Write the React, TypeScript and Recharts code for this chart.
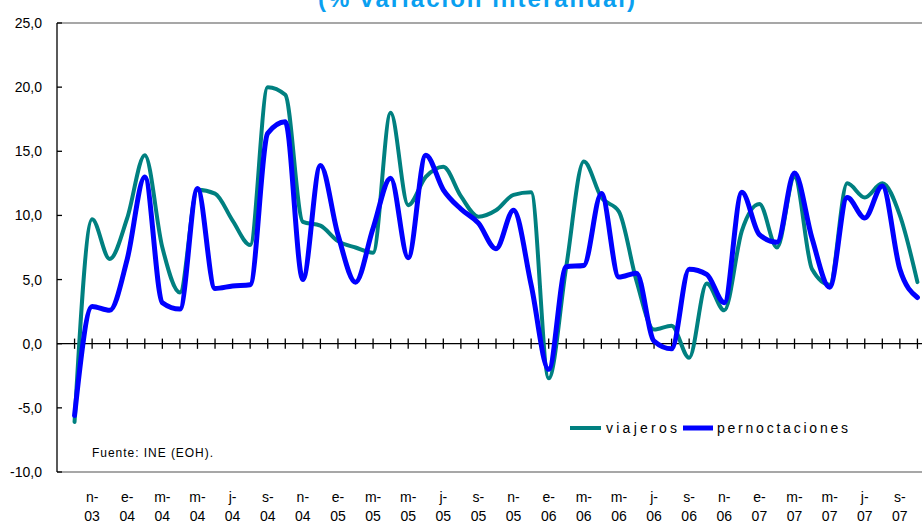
import React from 'react';
import { LineChart, Line, XAxis, YAxis, ReferenceLine, Legend } from 'recharts';

// Month categories (Oct 2003 .. Oct 2007), index k = position + 1
const months = [
  'o-03', 'n-03', 'd-03',
  'e-04', 'f-04', 'm-04', 'a-04', 'm-04', 'j-04', 'j-04', 'a-04', 's-04', 'o-04', 'n-04', 'd-04',
  'e-05', 'f-05', 'm-05', 'a-05', 'm-05', 'j-05', 'j-05', 'a-05', 's-05', 'o-05', 'n-05', 'd-05',
  'e-06', 'f-06', 'm-06', 'a-06', 'm-06', 'j-06', 'j-06', 'a-06', 's-06', 'o-06', 'n-06', 'd-06',
  'e-07', 'f-07', 'm-07', 'a-07', 'm-07', 'j-07', 'j-07', 'a-07', 's-07', 'o-07',
];

const viajeros = [
  -6.1, 9.7, 6.6,
  9.8, 14.7, 7.5, 4.0, 12.0, 11.7, 9.6, 7.7, 20.0, 19.4, 9.5, 9.2,
  8.0, 7.5, 7.1, 18.0, 10.8, 13.0, 13.8, 11.5, 9.9, 10.4, 11.6, 11.8,
  -2.7, 6.0, 14.2, 11.4, 10.3, 4.9, 1.1, 1.4, -1.1, 4.7, 2.6, 8.8,
  10.9, 7.5, 13.0, 5.8, 4.6, 12.5, 11.4, 12.5, 10.0, 4.8,
];

const pernoctaciones = [
  -5.6, 2.9, 2.6,
  6.6, 13.0, 3.2, 2.7, 12.1, 4.3, 4.5, 4.6, 16.4, 17.3, 5.0, 13.9,
  8.5, 4.8, 9.0, 12.9, 6.7, 14.7, 12.0, 10.5, 9.4, 7.4, 10.4, 4.6,
  -2.0, 6.0, 6.1, 11.7, 5.2, 5.5, 0.2, -0.4, 5.8, 5.4, 3.2, 11.8,
  8.5, 7.9, 13.3, 8.2, 4.4, 11.4, 9.8, 12.3, 5.8, 3.6,
];

const yTicks = [-10, -5, 0, 5, 10, 15, 20, 25];
const seriesNames = ['viajeros', 'pernoctaciones'];
const seriesColors = ['#008080', '#0000FF'];
const titleText = '(% variación interanual)';
const sourceText = 'Fuente: INE (EOH).';

const monthIdx = months.map((_, i) => i + 1);
const xTicks = monthIdx.filter((k) => k % 2 === 0);

const data = months.map((m, i) => ({
  k: i + 1,
  label: m,
  v: viajeros[i],
  p: pernoctaciones[i],
}));

const FONT = '"Liberation Sans", Arial, sans-serif';

const fmt = (v: number) => v.toFixed(1).replace('.', ',');

const YTick = (props: any) => {
  const { x, y, payload } = props;
  return (
    <g>
      <line x1={x + 15} x2={x + 20} y1={y} y2={y} stroke="#000" strokeWidth={1.3} />
      <text x={x} y={y} dy={5} textAnchor="end" fontSize={14} fontFamily={FONT} fill="#000">
        {fmt(payload.value)}
      </text>
    </g>
  );
};

const XTick = (props: any) => {
  const { x, y, payload } = props;
  const lab = months[payload.value - 1] || '';
  const [a, b] = lab.split('-');
  return (
    <g>
      <text x={x} y={y + 30} textAnchor="middle" fontSize={14} fontFamily={FONT} fill="#000">
        {a + '-'}
      </text>
      <text x={x} y={y + 49} textAnchor="middle" fontSize={14} fontFamily={FONT} fill="#000">
        {b}
      </text>
    </g>
  );
};

const renderLegend = () => (
  <svg width={300} height={24} style={{ display: 'block' }}>
    <line x1={2} x2={33} y1={12} y2={12} stroke={seriesColors[0]} strokeWidth={4} />
    <text x={38} y={17} fontSize={14} fontFamily={FONT} fill="#000" textLength={71} lengthAdjust="spacing">
      {seriesNames[0]}
    </text>
    <line x1={115} x2={145} y1={12} y2={12} stroke={seriesColors[1]} strokeWidth={5} />
    <text x={149} y={17} fontSize={14} fontFamily={FONT} fill="#000" textLength={131} lengthAdjust="spacing">
      {seriesNames[1]}
    </text>
  </svg>
);

export default function App() {
  return (
    <div
      style={{
        position: 'absolute',
        left: 0,
        top: 0,
        width: 922,
        height: 523,
        overflow: 'hidden',
        background: '#fff',
      }}
    >
      <LineChart
        width={935}
        height={523}
        data={data}
        margin={{ top: 23, right: 0, bottom: 0, left: 0 }}
      >
        <XAxis
          dataKey="k"
          type="number"
          domain={[0, 50]}
          ticks={xTicks}
          interval={0}
          allowDataOverflow
          axisLine={false}
          tickLine={false}
          tickSize={0}
          tickMargin={0}
          height={51}
          tick={<XTick />}
        />
        <YAxis
          type="number"
          domain={[-10, 25]}
          ticks={yTicks}
          interval={0}
          width={57}
          axisLine={{ stroke: '#000', strokeWidth: 1.3 }}
          tickLine={false}
          tickSize={0}
          tickMargin={15}
          tick={<YTick />}
        />
        <ReferenceLine y={25} stroke="#8a8a8a" strokeWidth={1.6} />
        <ReferenceLine y={-10} stroke="#8a8a8a" strokeWidth={1.6} />
        <ReferenceLine y={0} stroke="#000" strokeWidth={1.3} />
        {monthIdx.map((k) => (
          <ReferenceLine
            key={'t' + k}
            segment={[
              { x: k, y: -0.4 },
              { x: k, y: 0.4 },
            ]}
            stroke="#000"
            strokeWidth={1.3}
          />
        ))}
        <Line
          dataKey="v"
          name={seriesNames[0]}
          type="monotone"
          stroke={seriesColors[0]}
          strokeWidth={4}
          dot={false}
          activeDot={false}
          strokeLinejoin="round"
          strokeLinecap="round"
          isAnimationActive={false}
        />
        <Line
          dataKey="p"
          name={seriesNames[1]}
          type="monotone"
          stroke={seriesColors[1]}
          strokeWidth={5}
          dot={false}
          activeDot={false}
          strokeLinejoin="round"
          strokeLinecap="round"
          isAnimationActive={false}
        />
        <Legend
          layout="horizontal"
          verticalAlign="middle"
          align="center"
          content={renderLegend}
          wrapperStyle={{ left: 568, top: 416, width: 300, height: 24 }}
        />
      </LineChart>
      <svg
        width={922}
        height={523}
        style={{ position: 'absolute', left: 0, top: 0, pointerEvents: 'none' }}
      >
        <text
          x={318}
          y={7}
          fontSize={24}
          fontWeight="bold"
          fontFamily={FONT}
          fill="#0AA0F0"
          textLength={317}
          lengthAdjust="spacing"
        >
          {titleText}
        </text>
        <text
          x={92}
          y={457}
          fontSize={12}
          fontFamily={FONT}
          fill="#000"
          textLength={121}
          lengthAdjust="spacing"
        >
          {sourceText}
        </text>
      </svg>
    </div>
  );
}
